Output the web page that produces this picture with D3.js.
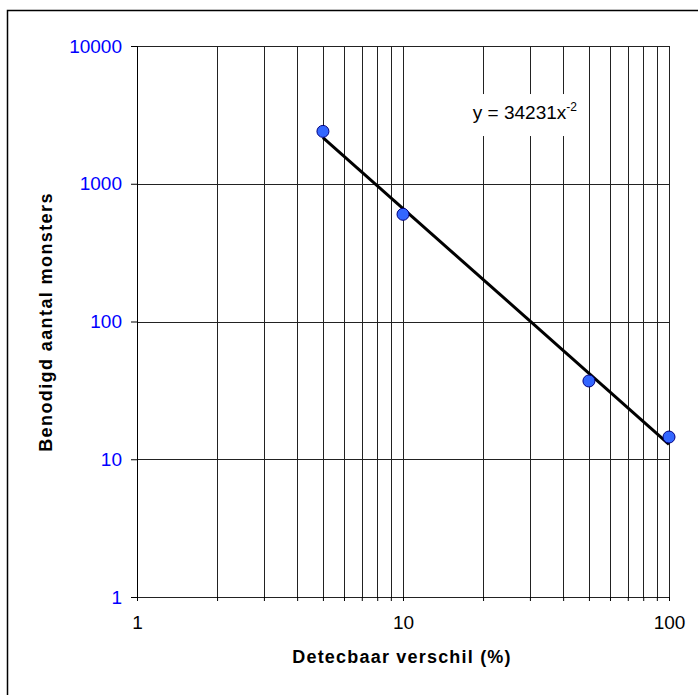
<!DOCTYPE html>
<html lang="en">
<head>
    <meta charset="UTF-8">
    <title>Benodigd aantal monsters</title>
    <script src="https://cdnjs.cloudflare.com/ajax/libs/d3/7.8.5/d3.min.js"></script>
    <style>
        body { margin: 0; background: #fff; }
        text { font-family: "Liberation Sans", Arial, sans-serif; }
    </style>
</head>
<body>
    <div id="wrapper"></div>
    <script>
        // data
        const verschil = [5, 10, 50, 100]          // Detecbaar verschil (%)
        const monsters = [2400, 600, 37, 14.5]     // Benodigd aantal monsters
        const xTicks = [1, 10, 100]
        const yTicks = [1, 10, 100, 1000, 10000]
        const trendLabel = ['y = 34231x', '-2']

        function drawChart() {
            const dimensions = {
                width: 698,
                height: 695,
                margin: { top: 46, right: 29, bottom: 98, left: 137 }
            }
            dimensions.boundedWidth = dimensions.width - dimensions.margin.left - dimensions.margin.right
            dimensions.boundedHeight = dimensions.height - dimensions.margin.top - dimensions.margin.bottom

            const wrapper = d3.select('#wrapper')
                .append('svg')
                    .attr('width', dimensions.width)
                    .attr('height', dimensions.height)

            // outer chart frame (runs off the right and bottom edge)
            wrapper.append('rect')
                .attr('x', 7.5)
                .attr('y', 10.5)
                .attr('width', 720)
                .attr('height', 720)
                .attr('fill', 'none')
                .attr('stroke', '#000')
                .attr('stroke-width', 1.5)

            const bounds = wrapper.append('g')
                .attr('transform', `translate(${dimensions.margin.left},${dimensions.margin.top})`)

            // scales
            const xScale = d3.scaleLog()
                .domain([1, 100])
                .range([0, dimensions.boundedWidth])
            const yScale = d3.scaleLog()
                .domain([1, 10000])
                .range([dimensions.boundedHeight, 0])

            // gridlines: minor + major verticals, decade horizontals
            const xGrid = d3.range(1, 101).filter(v => {
                const p = Math.pow(10, Math.floor(Math.log10(v) + 1e-9))
                return v % p === 0
            })
            bounds.append('g')
                .selectAll('line')
                .data(xGrid)
                .join('line')
                    .attr('x1', d => Math.round(xScale(d)) + 0.5)
                    .attr('x2', d => Math.round(xScale(d)) + 0.5)
                    .attr('y1', 0)
                    .attr('y2', dimensions.boundedHeight)
                    .attr('stroke', '#222')
                    .attr('stroke-width', 1)
            bounds.append('g')
                .selectAll('line')
                .data(yTicks)
                .join('line')
                    .attr('x1', 0)
                    .attr('x2', dimensions.boundedWidth)
                    .attr('y1', d => Math.round(yScale(d)) + 0.5)
                    .attr('y2', d => Math.round(yScale(d)) + 0.5)
                    .attr('stroke', '#222')
                    .attr('stroke-width', 1)

            // trendline label with white box
            const labelG = bounds.append('g')
                .attr('transform', `translate(${xScale(18.3)},${yScale(2950)})`)
            labelG.append('rect')
                .attr('x', -6)
                .attr('y', -25)
                .attr('width', 116)
                .attr('height', 42)
                .attr('fill', '#fff')
            const label = labelG.append('text')
                .attr('x', 0)
                .attr('y', 0)
                .attr('fill', '#000')
                .style('font-size', '19px')
            label.append('tspan').text(trendLabel[0])
            label.append('tspan')
                .attr('dy', -8)
                .style('font-size', '12px')
                .text(trendLabel[1])

            // power trendline fitted to the points (least squares in log-log)
            const lx = verschil.map(Math.log10)
            const ly = monsters.map(Math.log10)
            const mx = d3.mean(lx), my = d3.mean(ly)
            const slope = d3.sum(lx, (v, i) => (v - mx) * (ly[i] - my)) / d3.sum(lx, v => (v - mx) ** 2)
            const icpt = my - slope * mx
            const fit = x => Math.pow(10, icpt + slope * Math.log10(x))
            const trend = [d3.min(verschil), d3.max(verschil)].map(x => [x, fit(x)])

            bounds.append('path')
                .datum(trend)
                .attr('d', d3.line()
                    .x(d => xScale(d[0]))
                    .y(d => yScale(d[1])))
                .attr('fill', 'none')
                .attr('stroke', '#000')
                .attr('stroke-width', 3)

            // axes
            const xAxis = bounds.append('g')
                .attr('transform', `translate(0,${dimensions.boundedHeight})`)
                .call(d3.axisBottom(xScale)
                    .tickValues(xGrid)
                    .tickSize(4)
                    .tickFormat(d => xTicks.includes(d) ? d : ''))
            xAxis.select('.domain').attr('stroke', '#222')
            xAxis.selectAll('.tick line').attr('stroke', '#000')
            xAxis.selectAll('.tick text')
                .attr('y', 19)
                .attr('fill', '#000')
                .style('font-size', '19px')

            const yAxis = bounds.append('g')
                .call(d3.axisLeft(yScale)
                    .tickValues(yTicks)
                    .tickSize(6)
                    .tickFormat(d3.format('d')))
            yAxis.select('.domain').attr('stroke', '#000')
            yAxis.selectAll('.tick line').attr('stroke', '#000')
            yAxis.selectAll('.tick text')
                .attr('x', -15)
                .attr('fill', '#0000ff')
                .style('font-size', '19px')

            // points
            bounds.append('g')
                .selectAll('circle')
                .data(verschil)
                .join('circle')
                    .attr('cx', d => xScale(d))
                    .attr('cy', (d, i) => yScale(monsters[i]))
                    .attr('r', 6)
                    .attr('fill', '#3366ff')
                    .attr('stroke', '#000080')
                    .attr('stroke-width', 1)

            // axis titles
            wrapper.append('text')
                .attr('x', 402)
                .attr('y', 663)
                .attr('text-anchor', 'middle')
                .style('font-size', '18px')
                .style('font-weight', 'bold')
                .style('letter-spacing', '1.2px')
                .text('Detecbaar verschil (%)')

            wrapper.append('text')
                .attr('transform', 'translate(52,322) rotate(-90)')
                .attr('text-anchor', 'middle')
                .style('font-size', '18px')
                .style('font-weight', 'bold')
                .style('letter-spacing', '1.4px')
                .text('Benodigd aantal monsters')
        }

        drawChart()
    </script>
</body>
</html>
